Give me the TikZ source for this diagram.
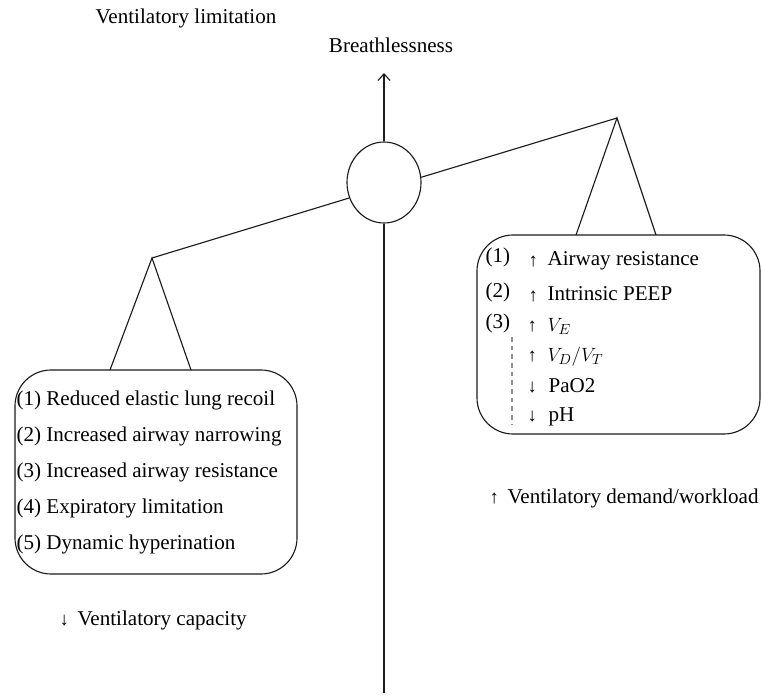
\documentclass[tikz,border=0pt]{standalone}
\usepackage{fontspec}
\setmainfont{Liberation Serif}
\usepackage{amsmath}
\usetikzlibrary{shapes.geometric,arrows.meta}
\definecolor{ink}{HTML}{1C1C1C}

\begin{document}
\begin{tikzpicture}[x=0.75pt,y=-0.75pt,line width=0.85pt,
        font=\fontsize{15.8}{19}\selectfont,
        txt/.style={anchor=base west, inner sep=0pt},
        arr/.style={anchor=base west, inner sep=0pt, font=\fontsize{14}{16}\selectfont},
        panel/.style={draw=ink, rounded corners=27pt, inner sep=0pt}]
        \useasboundingbox (0,0) rectangle (762,695);
        % titoli
        \node[txt] (limit) at (95,24) {Ventilatory limitation};
        \node[anchor=base, inner sep=0pt] (breath) at (391,53) {Breathlessness};
        % bilancia
        \node[draw=ink, ellipse, minimum width=55.5pt, minimum height=60.75pt, inner sep=0pt] (pivot) at (384,182.5) {};
        \coordinate (tip)  at (384,73);
        \coordinate (foot) at (384,693);
        \draw[ink, -{Straight Barb[length=5pt,width=9pt]}] (pivot) -- (tip);
        \draw[ink] (pivot) -- (foot);
        \coordinate (lapex) at (152,258);
        \coordinate (rapex) at (617,118);
        \draw[ink] (pivot.204) -- (lapex);
        \draw[ink] (pivot.8) -- (rapex);
        % piatti
        \coordinate (lleg1) at (110,370);
        \coordinate (lleg2) at (191,370);
        \coordinate (rleg1) at (576,235);
        \coordinate (rleg2) at (656,235);
        \draw[ink] (lleg1) -- (lapex) -- (lleg2);
        \draw[ink] (rleg1) -- (rapex) -- (rleg2);
        \node[panel, minimum width=211.5pt, minimum height=153pt] (lbox) at (156,472) {};
        \node[panel, minimum width=212.25pt, minimum height=149.25pt] (rbox) at (618.5,334.5) {};
        % capacita
        \node[txt] (l1) at (16,405) {(1) Reduced elastic lung recoil};
        \node[txt] (l2) at (16,441) {(2) Increased airway narrowing};
        \node[txt] (l3) at (16,477) {(3) Increased airway resistance};
        \node[txt] (l4) at (16,513) {(4) Expiratory limitation};
        \node[txt] (l5) at (16,549) {(5) Dynamic hyperination};
        \node[arr] (capa) at (59,625) {↓};
        \node[txt] (capt) at (77,625) {Ventilatory capacity};
        % domanda
        \node[txt] (r1n) at (485,262) {(1)};
        \node[arr] (r1a) at (528,266) {↑};
        \node[txt] (r1)  at (547,265) {Airway resistance};
        \node[txt] (r2n) at (485,297) {(2)};
        \node[arr] (r2a) at (528,301) {↑};
        \node[txt] (r2)  at (547,300) {Intrinsic PEEP};
        \node[txt] (r3n) at (485,328) {(3)};
        \node[arr] (r3a) at (527,331) {↑};
        \node[txt] (r3)  at (547,331) {$V_E$};
        \node[arr] (r4a) at (527,361) {↑};
        \node[txt] (r4)  at (547,361) {$V_D/V_T$};
        \node[arr] (r5a) at (527,392) {↓};
        \node[txt] (r5)  at (548,392) {PaO2};
        \node[arr] (r6a) at (527,421) {↓};
        \node[txt] (r6)  at (548,421) {pH};
        \coordinate (d1) at (512,337);
        \coordinate (d2) at (512,424);
        \draw[ink!50, dash pattern=on 3.5pt off 3pt] (d1) -- (d2);
        \node[arr] (dema) at (489,503) {↑};
        \node[txt] (demt) at (507,503) {Ventilatory demand/workload};
\end{tikzpicture}
\end{document}
